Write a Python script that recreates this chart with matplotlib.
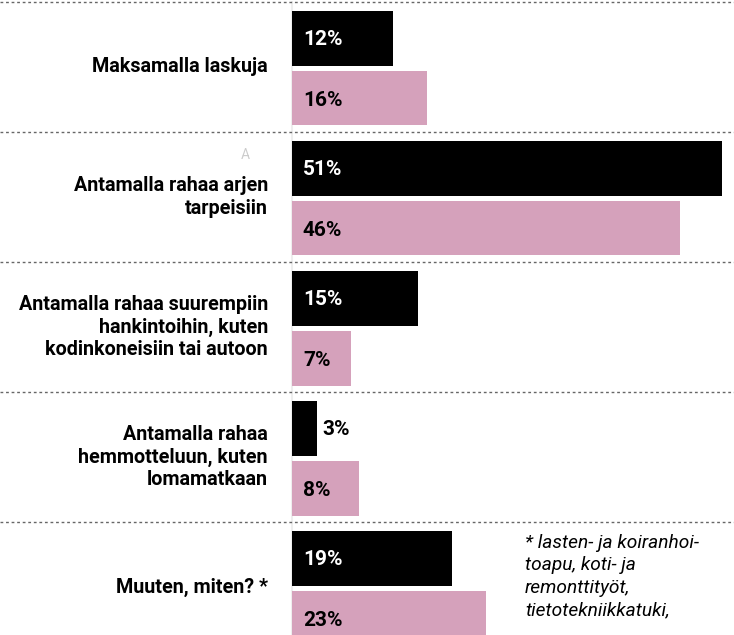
import matplotlib
matplotlib.use("Agg")
import matplotlib.pyplot as plt
from matplotlib.lines import Line2D
from matplotlib.transforms import blended_transform_factory

# Data
categories = [
    "Maksamalla laskuja",
    "Antamalla rahaa arjen\ntarpeisiin",
    "Antamalla rahaa suurempiin\nhankintoihin, kuten\nkodinkoneisiin tai autoon",
    "Antamalla rahaa\nhemmotteluun, kuten\nlomamatkaan",
    "Muuten, miten? *",
]
series_black = [12, 51, 15, 3, 19]
series_pink = [16, 46, 7, 8, 23]
black_labels = ["12%", "51%", "15%", "3%", "19%"]
pink_labels = ["16%", "46%", "7%", "8%", "23%"]
footnote = "* lasten- ja koiranhoi-\ntoapu, koti- ja\nremonttityöt,\ntietotekniikkatuki,"

PINK = "#d5a1bb"
FONT = ["Roboto", "DejaVu Sans"]

W, H = 734, 635
fig = plt.figure(figsize=(W / 100, H / 100), dpi=100)
fig.patch.set_facecolor("white")

# axes: x from pixel 292 to 722 (0..51 %), y spans 5 groups of 130 px from y=2
ax_left, ax_right = 292 / W, 722 / W
top_px, bottom_px = 2, 2 + 130 * 5
ax = fig.add_axes([ax_left, 1 - bottom_px / H, ax_right - ax_left, (bottom_px - top_px) / H])
ax.set_xlim(0, max(series_black))
ax.set_ylim(len(categories), 0)
ax.axis("off")

pos = list(range(len(categories)))
bar_h = 0.42
ax.barh([p + 0.28 for p in pos], series_black, height=bar_h, color="black")
ax.barh([p + 0.74 for p in pos], series_pink, height=bar_h, color=PINK)

for i, (b, p) in enumerate(zip(series_black, series_pink)):
    if b >= 5:
        ax.text(1.3, i + 0.29, black_labels[i], color="white", fontsize=15,
                fontweight="bold", va="center", ha="left", family=FONT)
    else:
        ax.text(b + 0.6, i + 0.29, black_labels[i], color="black", fontsize=15,
                fontweight="bold", va="center", ha="left", family=FONT)
    ax.text(1.3, i + 0.76, pink_labels[i], color="black", fontsize=15,
            fontweight="bold", va="center", ha="left", family=FONT)

# faint axis line
ax.plot([0, 0], [0, len(categories)], color="#eeeeee", lw=1.5, zorder=0, clip_on=False)

# dotted separators across the full width
trans = blended_transform_factory(fig.transFigure, ax.transData)
for k in range(len(categories) + 1):
    fig.add_artist(Line2D([0, 1], [k, k], transform=trans, color="#666666",
                          lw=1, linestyle=(0, (2, 2))))

# category labels
for i, cat in enumerate(categories):
    t = fig.text(268 / W, 0, cat, transform=trans, fontsize=14.2, fontweight="bold",
                 ha="right", va="center", multialignment="right", linespacing=1.25,
                 family=FONT)
    t.set_y(i + 0.5)

fig.text(245 / W, 0, "A", transform=trans, fontsize=10, color="#cccccc",
         ha="center", va="center", family=FONT).set_y(1.18)

# footnote
fig.text(525 / W, 0, footnote, transform=trans, fontsize=13.8, style="italic",
         ha="left", va="top", linespacing=1.32, family=FONT).set_y(4.09)

fig.savefig("out.png", dpi=100)
